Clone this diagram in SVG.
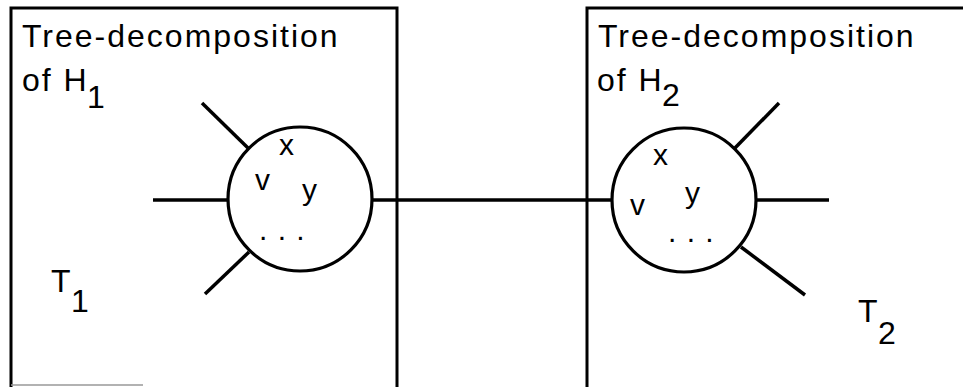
<svg xmlns="http://www.w3.org/2000/svg" width="963" height="387" viewBox="0 0 963 387">
<style>
  .box { fill: none; stroke: #000; stroke-width: 3; }
  .node { fill: #fff; stroke: #000; stroke-width: 3.2; }
  .edge { stroke: #000; stroke-width: 3.5; stroke-linecap: butt; fill: none; }
  .t { font-family: "Liberation Sans", Arial, Helvetica, sans-serif; font-size: 32px; fill: #000; }
  .s { font-size: 30px; }
  .title { letter-spacing: 2px; }
  .dots { letter-spacing: 1px; }
</style>
<rect width="963" height="387" fill="#fff"/>
<g id="box-H1">
  <path class="box" d="M11,387 V8 H397 V387"/>
  <line x1="11" y1="385" x2="143" y2="385" stroke="#999" stroke-width="1.5"/>
  <text class="t title" x="22" y="47">Tree-decomposition</text>
  <text class="t title" x="22" y="91">of H<tspan x="87" y="108" letter-spacing="0">1</tspan></text>
  <text class="t" x="51" y="292">T<tspan x="71" y="312">1</tspan></text>
</g>
<g id="box-H2">
  <path class="box" d="M587,387 V8 H963"/>
  <text class="t title" x="598" y="47">Tree-decomposition</text>
  <text class="t title" x="597" y="91">of H<tspan x="662" y="106" letter-spacing="0">2</tspan></text>
  <text class="t" x="858" y="322">T<tspan x="878" y="344">2</tspan></text>
</g>
<g id="connectors">
  <line class="edge" x1="372" y1="200" x2="612" y2="200"/>
  <line class="edge" x1="153" y1="200" x2="228" y2="200"/>
  <line class="edge" x1="202" y1="103" x2="248" y2="148"/>
  <line class="edge" x1="205" y1="294" x2="249" y2="252"/>
  <line class="edge" x1="735" y1="148" x2="779" y2="103"/>
  <line class="edge" x1="756" y1="200" x2="829" y2="200"/>
  <line class="edge" x1="741" y1="247" x2="805" y2="295"/>
</g>
<g id="bag-left">
  <circle class="node" cx="300" cy="199" r="72"/>
  <text class="t s" x="279" y="155">x</text>
  <text class="t s" x="255" y="190">v</text>
  <text class="t s" x="302" y="200">y</text>
  <text class="t s dots" x="259" y="240">. . .</text>
</g>
<g id="bag-right">
  <circle class="node" cx="684" cy="200" r="72"/>
  <text class="t s" x="653" y="165">x</text>
  <text class="t s" x="630" y="215">v</text>
  <text class="t s" x="685" y="203">y</text>
  <text class="t s dots" x="668" y="242">. . .</text>
</g>
</svg>
